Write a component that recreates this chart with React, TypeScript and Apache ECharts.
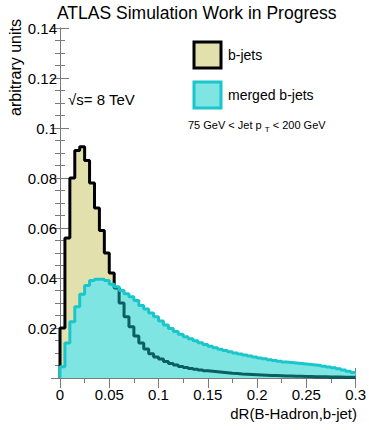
import React, { useEffect, useRef } from "react";
import * as echarts from "echarts";

const binWidth = 0.005;
const xTicks = [0, 0.05, 0.1, 0.15, 0.2, 0.25, 0.3];
const yTicks = [0.02, 0.04, 0.06, 0.08, 0.1, 0.12, 0.14];

const bJets = [
  0.02, 0.056, 0.08, 0.091, 0.0925, 0.087, 0.078, 0.068, 0.059, 0.05,
  0.042, 0.036, 0.03, 0.0245, 0.0205, 0.0168, 0.014, 0.0116, 0.0097, 0.0084,
  0.0076, 0.0066, 0.0058, 0.0052, 0.0046, 0.0042, 0.0038, 0.0035, 0.0032, 0.0029,
  0.0027, 0.0025, 0.0023, 0.0021, 0.0019, 0.0018, 0.0016, 0.0015, 0.0014, 0.0013,
  0.0012, 0.0011, 0.001, 0.001, 0.0009, 0.0008, 0.0008, 0.0007, 0.0007, 0.0006,
  0.0006, 0.0005, 0.0005, 0.0005, 0.0004, 0.0004, 0.0004, 0.0003, 0.0003, 0.0003,
];

const mergedBJets = [
  0.0045, 0.014, 0.0225, 0.0285, 0.0335, 0.037, 0.039, 0.0395, 0.0395, 0.039,
  0.0375, 0.0365, 0.035, 0.0337, 0.0325, 0.031, 0.029, 0.0276, 0.026, 0.0245,
  0.0228, 0.0212, 0.0198, 0.0186, 0.0175, 0.0165, 0.0157, 0.0149, 0.0141, 0.0134,
  0.0127, 0.0121, 0.0115, 0.011, 0.0105, 0.01, 0.0096, 0.0092, 0.0088, 0.0084,
  0.008, 0.0077, 0.0073, 0.007, 0.0067, 0.0064, 0.0062, 0.006, 0.0058, 0.0056,
  0.0054, 0.0052, 0.005, 0.0047, 0.0044, 0.0041, 0.0037, 0.0032, 0.0027, 0.0022,
];

// first bin where the b-jets outline runs underneath the merged fill
const tailStart = 11;

const FONT = "'Liberation Sans', Arial, Helvetica, sans-serif";

function stepPoints(values: number[], from = 0, startAtZero = true): number[][] {
  const pts: number[][] = [];
  if (startAtZero) pts.push([from * binWidth, 0]);
  for (let i = from; i < values.length; i++) {
    pts.push([i * binWidth, values[i]]);
    pts.push([(i + 1) * binWidth, values[i]]);
  }
  return pts;
}

export default function App() {
  const ref = useRef<HTMLDivElement>(null);

  useEffect(() => {
    if (!ref.current) return;
    const chart = echarts.init(ref.current, undefined, { renderer: "svg" });
    const axisGrey = "#7a7a7a";

    const tailPts = stepPoints(bJets, tailStart, false);
    tailPts.unshift([tailStart * binWidth, mergedBJets[tailStart - 1]]);

    const commonX = {
      type: "value" as const,
      min: 0,
      max: 0.3,
      interval: 0.05,
      splitLine: { show: false },
      axisLine: { show: true, lineStyle: { color: axisGrey, width: 1 } },
      axisTick: { show: true, inside: true, length: 10, lineStyle: { color: axisGrey } },
      minorTick: { show: true, splitNumber: 2, length: 5, lineStyle: { color: axisGrey } },
    };
    const commonY = {
      type: "value" as const,
      min: 0,
      max: 0.14,
      interval: 0.02,
      splitLine: { show: false },
      axisLine: { show: true, lineStyle: { color: axisGrey, width: 1 } },
      axisTick: { show: true, inside: true, length: 9, lineStyle: { color: axisGrey } },
      minorTick: { show: true, splitNumber: 4, length: 5, lineStyle: { color: axisGrey } },
    };

    chart.setOption({
      animation: false,
      grid: { left: 60, right: 12, top: 28, bottom: 52, containLabel: false },
      xAxis: [
        {
          ...commonX,
          position: "bottom",
          axisLabel: {
            show: true,
            fontFamily: FONT,
            fontSize: 15,
            color: "#000",
            margin: 9,
            formatter: (v: number) => {
              const t = xTicks.find((k) => Math.abs(k - v) < 1e-9);
              return t === undefined ? "" : String(t);
            },
          },
        },
        { ...commonX, position: "top", axisLabel: { show: false } },
      ],
      yAxis: [
        {
          ...commonY,
          position: "left",
          axisLabel: {
            show: true,
            fontFamily: FONT,
            fontSize: 15,
            color: "#000",
            margin: 3,
            formatter: (v: number) => {
              const t = yTicks.find((k) => Math.abs(k - v) < 1e-9);
              return t === undefined ? "" : String(t);
            },
          },
        },
        { ...commonY, position: "right", axisLabel: { show: false } },
      ],
      series: [
        {
          name: "b-jets",
          type: "line",
          data: stepPoints(bJets),
          showSymbol: false,
          symbol: "none",
          lineStyle: { color: "#000000", width: 3 },
          areaStyle: { color: "#e2e0ad", opacity: 1 },
          z: 1,
        },
        {
          name: "merged b-jets fill",
          type: "line",
          data: stepPoints(mergedBJets),
          showSymbol: false,
          symbol: "none",
          lineStyle: { width: 0, opacity: 0 },
          areaStyle: { color: "#7fe5e3", opacity: 1 },
          z: 2,
        },
        {
          name: "b-jets tail",
          type: "line",
          data: tailPts,
          showSymbol: false,
          symbol: "none",
          lineStyle: { color: "#0a5f60", width: 3 },
          z: 3,
        },
        {
          name: "merged b-jets",
          type: "line",
          data: stepPoints(mergedBJets),
          showSymbol: false,
          symbol: "none",
          lineStyle: { color: "#18c6cb", width: 3 },
          z: 4,
        },
      ],
      graphic: [
        {
          type: "text",
          x: 57,
          y: 13,
          style: {
            text: "ATLAS Simulation Work in Progress",
            fontFamily: FONT,
            fontSize: 17.5,
            fill: "#000",
            align: "left",
            verticalAlign: "middle",
          },
        },
        {
          type: "text",
          x: 15,
          y: 19,
          rotation: Math.PI / 2,
          style: {
            text: "arbitrary units",
            fontFamily: FONT,
            fontSize: 16,
            fill: "#000",
            align: "right",
            verticalAlign: "middle",
          },
        },
        {
          type: "text",
          x: 357,
          y: 413,
          style: {
            text: "dR(B-Hadron,b-jet)",
            fontFamily: FONT,
            fontSize: 15,
            fill: "#000",
            align: "right",
            verticalAlign: "middle",
          },
        },
        {
          type: "rect",
          shape: { x: 194, y: 42, width: 27, height: 26 },
          style: { fill: "#e2e0ad", stroke: "#000", lineWidth: 3 },
        },
        {
          type: "text",
          x: 228,
          y: 55,
          style: {
            text: "b-jets",
            fontFamily: FONT,
            fontSize: 14,
            fill: "#000",
            align: "left",
            verticalAlign: "middle",
          },
        },
        {
          type: "rect",
          shape: { x: 194, y: 82, width: 27, height: 26 },
          style: { fill: "#7fe5e3", stroke: "#18c6cb", lineWidth: 3 },
        },
        {
          type: "text",
          x: 228,
          y: 95,
          style: {
            text: "merged b-jets",
            fontFamily: FONT,
            fontSize: 14,
            fill: "#000",
            align: "left",
            verticalAlign: "middle",
          },
        },
        {
          type: "text",
          x: 188,
          y: 125,
          style: {
            text: "75 GeV < Jet p {s|T} < 200 GeV",
            fontFamily: FONT,
            fontSize: 11,
            fill: "#000",
            align: "left",
            verticalAlign: "middle",
            rich: {
              s: { fontFamily: FONT, fontSize: 8, fill: "#000", padding: [8, 0, 0, 0] },
            },
          },
        },
        {
          type: "text",
          x: 68,
          y: 99,
          style: {
            text: "√s= 8 TeV",
            fontFamily: FONT,
            fontSize: 15,
            fill: "#000",
            align: "left",
            verticalAlign: "middle",
          },
        },
      ],
    });

    return () => chart.dispose();
  }, []);

  return (
    <div
      ref={ref}
      style={{ position: "fixed", left: 0, top: 0, width: 369, height: 430, background: "#fff" }}
    />
  );
}
